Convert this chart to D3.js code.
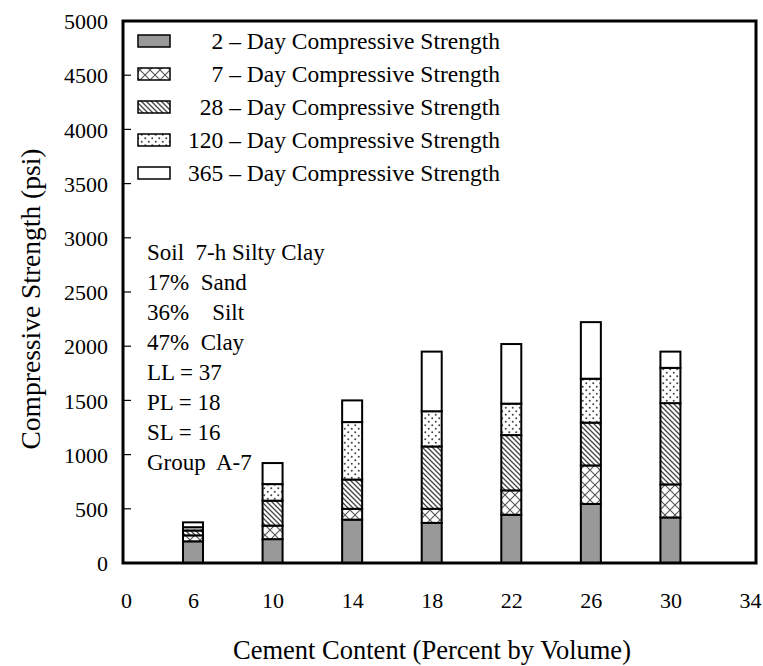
<!DOCTYPE html>
<html>
<head>
<meta charset="utf-8">
<script src="https://cdn.jsdelivr.net/npm/d3@7/dist/d3.min.js"></script>
<style>
  html, body { margin: 0; padding: 0; background: #fff; }
  svg text { font-family: "Liberation Serif", "Times New Roman", serif; fill: #000; }
</style>
</head>
<body>
<svg id="chart" width="763" height="666"></svg>
<script>
// Cement content (percent by volume) for each specimen group
const cementContent = [6, 10, 14, 18, 22, 26, 30];

// Compressive strength (psi) at each curing age
const strength2Day   = [200, 220, 400, 370, 445, 545, 420];
const strength7Day   = [255, 345, 500, 500, 670, 900, 725];
const strength28Day  = [300, 575, 770, 1075, 1180, 1295, 1475];
const strength120Day = [330, 728, 1300, 1400, 1470, 1700, 1800];
const strength365Day = [375, 922, 1500, 1950, 2020, 2222, 1950];

const ageLabels = ["2", "7", "28", "120", "365"];
const xTickValues = [0, 6, 10, 14, 18, 22, 26, 30, 34];
const yTickValues = [0, 500, 1000, 1500, 2000, 2500, 3000, 3500, 4000, 4500, 5000];

const soilNotes = [
  "Soil  7-h Silty Clay",
  "17%  Sand",
  "36%    Silt",
  "47%  Clay",
  "LL = 37",
  "PL = 18",
  "SL = 16",
  "Group  A-7"
];

const series = [strength2Day, strength7Day, strength28Day, strength120Day, strength365Day];

const svg = d3.select("#chart");
const plotLeft = 123, plotRight = 756, plotTop = 21, plotBottom = 563;
const serif = "'Liberation Serif', 'Times New Roman', serif";

// Hatch / dot fills for the curing ages
const defs = svg.append("defs");

const cross = defs.append("pattern").attr("id", "pat-cross")
  .attr("patternUnits", "userSpaceOnUse").attr("width", 10).attr("height", 10);
cross.append("rect").attr("width", 10).attr("height", 10).attr("fill", "#fff");
cross.append("path").attr("d", "M0,0 L10,10 M10,0 L0,10")
  .attr("stroke", "#555").attr("stroke-width", 1.1);

const diag = defs.append("pattern").attr("id", "pat-diag")
  .attr("patternUnits", "userSpaceOnUse").attr("width", 5).attr("height", 5);
diag.append("rect").attr("width", 5).attr("height", 5).attr("fill", "#fff");
diag.append("path").attr("d", "M-1,-1 L6,6 M-1,4 L1,6 M4,-1 L6,1")
  .attr("stroke", "#444").attr("stroke-width", 1.3);

const dots = defs.append("pattern").attr("id", "pat-dots")
  .attr("patternUnits", "userSpaceOnUse").attr("width", 7).attr("height", 7);
dots.append("rect").attr("width", 7).attr("height", 7).attr("fill", "#fff");
dots.append("circle").attr("cx", 1.75).attr("cy", 1.75).attr("r", 1).attr("fill", "#444");
dots.append("circle").attr("cx", 5.25).attr("cy", 5.25).attr("r", 1).attr("fill", "#444");

const fills = ["#999999", "url(#pat-cross)", "url(#pat-diag)", "url(#pat-dots)", "#ffffff"];

// Scales: the 0 label sits at the origin, the rest are evenly spaced
const x = d3.scaleLinear().domain([0, 6, 34]).range([126, 193, 750]);
const y = d3.scaleLinear().domain([0, 5000]).range([plotBottom, plotTop]);
const barWidth = 20;

// Y axis labels
const yAxis = d3.axisLeft(y).tickValues(yTickValues).tickFormat(d3.format("d"))
  .tickSize(0).tickPadding(15);
const yg = svg.append("g").attr("transform", `translate(${plotLeft},0)`).call(yAxis)
  .attr("font-family", serif);
yg.select(".domain").remove();
yg.selectAll("text").style("font-size", "22px").attr("dy", "0.35em");

// Inward tick marks
svg.append("g").selectAll("line").data(yTickValues.filter(v => v > 0 && v < 5000)).join("line")
  .attr("x1", plotLeft).attr("x2", plotLeft + 8)
  .attr("y1", d => y(d)).attr("y2", d => y(d))
  .attr("stroke", "#000").attr("stroke-width", 1.2);

// X axis labels
const xAxis = d3.axisBottom(x).tickValues(xTickValues).tickFormat(d3.format("d"))
  .tickSize(0).tickPadding(45);
const xg = svg.append("g").attr("transform", `translate(0,${plotBottom})`).call(xAxis)
  .attr("font-family", serif);
xg.select(".domain").remove();
xg.selectAll("text").style("font-size", "22px").attr("dy", "0");

// Bars: each age drawn from the previous age's strength up to its own
const barGroup = svg.append("g");
cementContent.forEach((c, i) => {
  series.forEach((s, k) => {
    const lo = k === 0 ? 0 : series[k - 1][i];
    const hi = s[i];
    barGroup.append("rect")
      .attr("x", x(c) - barWidth / 2)
      .attr("y", y(hi))
      .attr("width", barWidth)
      .attr("height", y(lo) - y(hi))
      .attr("fill", fills[k])
      .attr("stroke", "#000")
      .attr("stroke-width", 2);
  });
});

// Plot frame
svg.append("rect")
  .attr("x", plotLeft).attr("y", plotTop)
  .attr("width", plotRight - plotLeft).attr("height", plotBottom - plotTop)
  .attr("fill", "none").attr("stroke", "#000").attr("stroke-width", 3);

// Legend
const legend = svg.append("g");
ageLabels.forEach((a, k) => {
  const cy = 41 + k * 33;
  legend.append("rect")
    .attr("x", 138).attr("y", cy - 6).attr("width", 32).attr("height", 12)
    .attr("fill", fills[k]).attr("stroke", "#000").attr("stroke-width", 1.5);
  legend.append("text")
    .attr("x", 500).attr("y", cy).attr("dy", "0.35em")
    .attr("text-anchor", "end")
    .style("font-size", "23.5px")
    .text(`${a} – Day Compressive Strength`);
});

// Soil description
svg.append("g").selectAll("text").data(soilNotes).join("text")
  .attr("x", 147)
  .attr("y", (d, i) => 252 + i * 30)
  .attr("dy", "0.35em")
  .style("font-size", "23px")
  .style("white-space", "pre")
  .text(d => d);

// Axis titles
svg.append("text")
  .attr("x", 432).attr("y", 659)
  .attr("text-anchor", "middle")
  .style("font-size", "26.5px")
  .text("Cement Content (Percent by Volume)");

svg.append("text")
  .attr("transform", "translate(30,299) rotate(-90)")
  .attr("dy", "0.35em")
  .attr("text-anchor", "middle")
  .style("font-size", "27.5px")
  .text("Compressive Strength (psi)");
</script>
</body>
</html>
